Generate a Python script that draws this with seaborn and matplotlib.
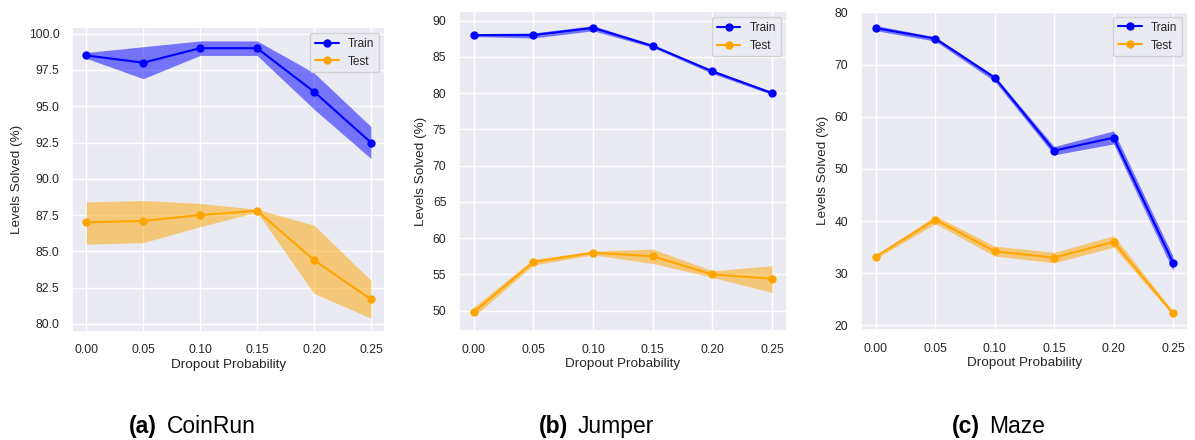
import numpy as np
import matplotlib
matplotlib.use('Agg')
import matplotlib.pyplot as plt
import seaborn as sns

sns.set_theme(style='darkgrid')
plt.rcParams['font.family'] = ['Liberation Sans', 'DejaVu Sans']

dropout = [0.00, 0.05, 0.10, 0.15, 0.20, 0.25]
tick_labels = ['0.00', '0.05', '0.10', '0.15', '0.20', '0.25']

# CoinRun
coinrun_train = [98.5, 98.0, 99.0, 99.0, 96.0, 92.5]
coinrun_train_lo = [98.3, 96.9, 98.5, 98.5, 94.8, 91.4]
coinrun_train_hi = [98.7, 99.1, 99.5, 99.5, 97.3, 93.6]
coinrun_test = [87.0, 87.1, 87.5, 87.8, 84.4, 81.7]
coinrun_test_lo = [85.5, 85.6, 86.7, 87.7, 82.1, 80.4]
coinrun_test_hi = [88.4, 88.5, 88.3, 87.9, 86.8, 83.0]

# Jumper
jumper_train = [88.0, 88.0, 89.0, 86.5, 83.0, 80.0]
jumper_train_lo = [87.8, 87.6, 88.6, 86.3, 82.7, 79.8]
jumper_train_hi = [88.2, 88.3, 89.3, 86.7, 83.2, 80.2]
jumper_test = [49.8, 56.7, 58.0, 57.5, 55.0, 54.4]
jumper_test_lo = [49.2, 56.3, 57.7, 56.5, 54.6, 52.5]
jumper_test_hi = [50.5, 57.1, 58.2, 58.5, 55.5, 56.2]

# Maze
maze_train = [77.0, 75.0, 67.5, 53.5, 56.0, 32.0]
maze_train_lo = [76.5, 74.5, 66.8, 52.7, 54.8, 30.5]
maze_train_hi = [77.5, 75.3, 67.8, 54.3, 57.3, 33.2]
maze_test = [33.2, 40.3, 34.2, 33.0, 36.0, 22.3]
maze_test_lo = [32.8, 39.5, 33.3, 32.0, 35.0, 21.9]
maze_test_hi = [33.5, 41.0, 35.2, 34.0, 37.2, 22.7]

panels = [
    ('(a)', 'CoinRun', coinrun_train, coinrun_train_lo, coinrun_train_hi,
     coinrun_test, coinrun_test_lo, coinrun_test_hi),
    ('(b)', 'Jumper', jumper_train, jumper_train_lo, jumper_train_hi,
     jumper_test, jumper_test_lo, jumper_test_hi),
    ('(c)', 'Maze', maze_train, maze_train_lo, maze_train_hi,
     maze_test, maze_test_lo, maze_test_hi),
]

rects = [
    [0.0603, 0.2455, 0.262, 0.693],
    [0.384, 0.2477, 0.2745, 0.727],
    [0.7205, 0.25, 0.2736, 0.725],
]
# left edges of the caption tag and name
tag_x = [0.108, 0.451, 0.7967]
name_x = [0.1397, 0.4837, 0.8276]

fig = plt.figure(figsize=(11.95, 4.4), dpi=100)

for (tag, name, tr, tr_lo, tr_hi, te, te_lo, te_hi), rect, tx, nx in zip(panels, rects, tag_x, name_x):
    ax = fig.add_axes(rect)
    sns.lineplot(x=dropout, y=tr, marker='o', color='blue', label='Train',
                 markersize=6, markeredgewidth=0, linewidth=1.5, ax=ax)
    ax.fill_between(dropout, tr_lo, tr_hi, color='blue', alpha=0.5, linewidth=0)
    sns.lineplot(x=dropout, y=te, marker='o', color='orange', label='Test',
                 markersize=6, markeredgewidth=0, linewidth=1.5, ax=ax)
    ax.fill_between(dropout, te_lo, te_hi, color='orange', alpha=0.5, linewidth=0)
    ax.set_xticks(dropout)
    ax.set_xticklabels(tick_labels)
    ax.tick_params(labelsize=8.7, pad=3)
    ax.set_xlabel('Dropout Probability', fontsize=9.7, labelpad=2)
    ax.set_ylabel('Levels Solved (%)', fontsize=9.7)
    ax.legend(loc='upper right', fontsize=8.5)
    fig.text(tx, 0.016, tag, fontsize=16.5, fontweight='bold', color='black',
             ha='left', va='baseline')
    fig.text(nx, 0.016, name, fontsize=16.5, color='black', ha='left', va='baseline')

fig.savefig('out.png', dpi=100)
